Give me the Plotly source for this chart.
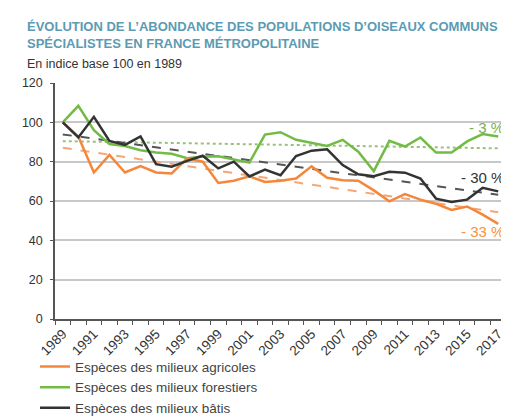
import numpy as np
import plotly.graph_objects as go

years = list(range(1989, 2018))
agricoles = [100, 92.8, 74.5, 83.4, 74.5, 77.8, 74.5, 74.0, 81.7, 80.0,
             69.2, 70.3, 72.6, 69.7, 70.3, 71.4, 77.6, 71.8, 70.6, 70.3,
             65.4, 59.8, 63.5, 60.7, 58.6, 55.5, 57.2, 53.1, 48.4]
forestiers = [100, 108.4, 96.0, 89.0, 88.0, 85.8, 84.7, 84.0, 81.7, 82.6,
              82.8, 81.2, 79.5, 93.8, 95.0, 91.1, 89.4, 88.0, 91.1, 85.1,
              75.2, 90.6, 87.7, 92.3, 84.6, 84.6, 90.3, 94.0, 92.8]
batis = [100, 92.3, 102.8, 90.5, 88.5, 92.8, 78.7, 77.4, 80.4, 83.0,
         76.6, 80.0, 72.5, 76.0, 73.1, 82.9, 85.6, 86.3, 78.3, 73.6,
         72.6, 74.9, 74.4, 71.4, 61.2, 59.5, 60.7, 66.7, 64.9]
tick_years = list(range(1989, 2018, 2))
labels = ["- 33 %", "- 3 %", "- 30 %"]
names = ["Espèces des milieux agricoles", "Espèces des milieux forestiers",
         "Espèces des milieux bâtis"]

c_orange = "#F5873A"
c_green = "#72BC45"
c_black = "#333333"
t_orange = "#F5A677"
t_green = "#9CBF7E"
t_black = "#555555"

FONT = "Liberation Sans, Arial, sans-serif"
fig = go.Figure()

x = np.array(years, dtype=float)
for series, col, dash in [(forestiers, t_green, "dot"), (batis, t_black, "dash"),
                          (agricoles, t_orange, "dash")]:
    k, b = np.polyfit(x, np.array(series), 1)
    fig.add_trace(go.Scatter(x=years, y=list(k * x + b), mode="lines",
                             line=dict(color=col, width=2, dash=dash),
                             showlegend=False, hoverinfo="skip"))

for series, col, name, rank in [(forestiers, c_green, names[1], 2),
                                (agricoles, c_orange, names[0], 1),
                                (batis, c_black, names[2], 3)]:
    fig.add_trace(go.Scatter(x=years, y=series, mode="lines", name=name,
                             line=dict(color=col, width=2.5), legendrank=rank))

# end labels
fig.add_annotation(x=1, xref="paper", y=forestiers[-1], yref="y", text=labels[1],
                   showarrow=False, xanchor="right", yanchor="middle", yshift=9,
                   font=dict(family=FONT, size=15, color="#78AE55"))
fig.add_annotation(x=1, xref="paper", y=batis[-1], yref="y", text=labels[2],
                   showarrow=False, xanchor="right", yanchor="middle", yshift=14,
                   font=dict(family=FONT, size=15, color="#2E3338"))
fig.add_annotation(x=1, xref="paper", y=agricoles[-1], yref="y", text=labels[0],
                   showarrow=False, xanchor="right", yanchor="middle", yshift=-8,
                   font=dict(family=FONT, size=15, color="#F7933D"))

# titles
title_col = "#5B9BB3"
fig.add_annotation(x=-0.0665, xref="paper", y=(311 - 26.5) / 236, yref="paper",
                   text="<b>ÉVOLUTION DE L’ABONDANCE DES POPULATIONS D’OISEAUX COMMUNS"
                        "<br>SPÉCIALISTES EN FRANCE MÉTROPOLITAINE</b>",
                   showarrow=False, xanchor="left", yanchor="middle", align="left",
                   font=dict(family=FONT, size=13, color=title_col))
fig.add_annotation(x=-0.0665, xref="paper", y=(311 - 56) / 236, yref="paper",
                   text="En indice base 100 en 1989",
                   showarrow=False, xanchor="left", yanchor="middle",
                   font=dict(family=FONT, size=12.5, color="#333333"))

fig.update_layout(
    width=509, height=419,
    margin=dict(l=47, r=11, t=75, b=108, autoexpand=False),
    paper_bgcolor="white", plot_bgcolor="white",
    font=dict(family=FONT, color="#333333"),
    showlegend=True,
    legend=dict(x=-0.0443, xanchor="left", y=-0.137, yanchor="top",
                font=dict(family=FONT, size=13.5, color="#444444"),
                itemwidth=30, bgcolor="rgba(0,0,0,0)", tracegroupgap=0),
)
fig.update_xaxes(
    range=[1988.5, 2017.5],
    tickvals=tick_years, ticktext=[str(t) for t in tick_years],
    tickangle=-45, ticks="", tickfont=dict(family=FONT, size=13.5, color="#333333"),
    showgrid=False, showline=True, linecolor="#555555", linewidth=1.5,
    minor=dict(tick0=1988.5, dtick=1, ticks="outside", ticklen=4,
               tickcolor="#555555", showgrid=False),
    zeroline=False,
)
fig.update_yaxes(
    range=[0, 120], dtick=20, ticks="outside", ticklen=3, tickcolor="#555555",
    tickfont=dict(family=FONT, size=12.5, color="#333333"),
    showgrid=True, gridcolor="#C8C8C8", gridwidth=1.5,
    showline=True, linecolor="#555555", linewidth=1.5, zeroline=False,
    ticklabelstandoff=5,
)

fig.write_html("out.html")
